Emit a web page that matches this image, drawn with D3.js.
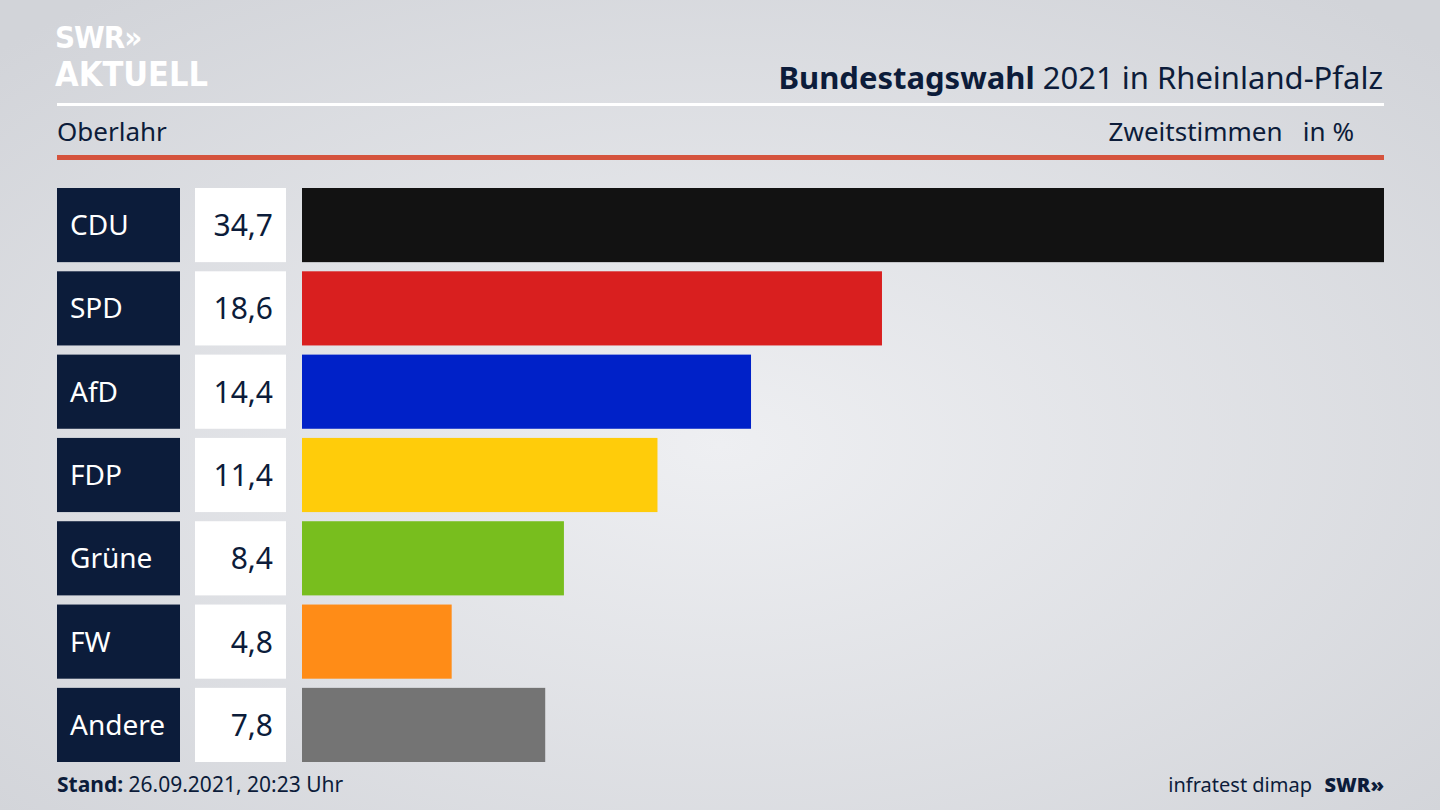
<!DOCTYPE html>
<html>
<head>
<meta charset="utf-8">
<script src="https://cdn.jsdelivr.net/npm/d3@7"></script>
<style>
  body { margin: 0; }
  svg { display: block; font-family: "Noto Sans", sans-serif; }
</style>
</head>
<body>
<svg id="chart" width="1440" height="810"></svg>
<script>
// Zweitstimmen Oberlahr
const parties = ["CDU", "SPD", "AfD", "FDP", "Grüne", "FW", "Andere"];
const values = [34.7, 18.6, 14.4, 11.4, 8.4, 4.8, 7.8];
const colors = ["#121212", "#d91f1f", "#0021c8", "#ffcc0a", "#78be1e", "#ff8c17", "#747474"];

var svg = d3.select("#chart");
var navy = "#0c1c3a";

// hintergrund
var defs = svg.append("defs");
var grad = defs.append("radialGradient").attr("id", "bg")
    .attr("cx", "50%").attr("cy", "55%").attr("r", "70%");
grad.append("stop").attr("offset", "0%").attr("stop-color", "#eeeff2");
grad.append("stop").attr("offset", "100%").attr("stop-color", "#d2d4d9");
svg.append("rect").attr("width", 1440).attr("height", 810).attr("fill", "url(#bg)");

// logo
var logo = svg.append("g").attr("fill", "#fff").attr("font-weight", 700)
    .attr("font-family", "'DejaVu Sans Condensed', 'DejaVu Sans', sans-serif");
logo.append("text").attr("x", 55).attr("y", 48).attr("font-size", 31).attr("letter-spacing", -1).text("SWR»");
logo.append("text").attr("x", 55).attr("y", 86).attr("font-size", 34).text("AKTUELL");

// titel
var title = svg.append("text").attr("x", 1383).attr("y", 89).attr("text-anchor", "end")
    .attr("font-size", 31).attr("fill", navy);
title.append("tspan").attr("font-weight", 700).text("Bundestagswahl");
title.append("tspan").text(" 2021 in Rheinland-Pfalz");

svg.append("rect").attr("x", 57).attr("y", 103).attr("width", 1327).attr("height", 3).attr("fill", "#fff");
svg.append("text").attr("x", 57).attr("y", 141).attr("font-size", 26).attr("fill", navy).text("Oberlahr");
svg.append("text").attr("x", 1354).attr("y", 141).attr("text-anchor", "end").attr("font-size", 26)
    .attr("fill", navy).attr("xml:space", "preserve").text("Zweitstimmen   in %");
svg.append("rect").attr("x", 57).attr("y", 155).attr("width", 1327).attr("height", 5).attr("fill", "#d5533d");

// skalen
var y = d3.scaleBand().domain(parties).range([188, 762]).paddingInner(0.11).paddingOuter(0);
var x = d3.scaleLinear().domain([0, d3.max(values)]).range([302, 1384]);

var rows = svg.selectAll(".row").data(parties).enter().append("g").attr("class", "row");

rows.append("rect").attr("x", 57).attr("y", d => y(d)).attr("width", 123).attr("height", y.bandwidth()).attr("fill", navy);
rows.append("text").attr("x", 70).attr("y", d => y(d) + y.bandwidth() / 2 + 10)
    .attr("font-size", 28).attr("fill", "#fff").text(d => d);

rows.append("rect").attr("x", 195).attr("y", d => y(d)).attr("width", 91).attr("height", y.bandwidth()).attr("fill", "#fff");
rows.append("text").attr("x", 273).attr("y", d => y(d) + y.bandwidth() / 2 + 11)
    .attr("text-anchor", "end").attr("font-size", 30).attr("fill", navy)
    .text((d, i) => values[i].toFixed(1).replace(".", ","));

rows.append("rect").attr("x", x(0)).attr("y", d => y(d))
    .attr("width", (d, i) => x(values[i]) - x(0)).attr("height", y.bandwidth())
    .attr("fill", (d, i) => colors[i]);

// fusszeile
var stand = svg.append("text").attr("x", 57).attr("y", 792).attr("font-size", 21).attr("fill", navy);
stand.append("tspan").attr("font-weight", 700).text("Stand:");
stand.append("tspan").text(" 26.09.2021, 20:23 Uhr");
svg.append("text").attr("x", 1312).attr("y", 792).attr("text-anchor", "end").attr("font-size", 20)
    .attr("fill", navy).text("infratest dimap");
svg.append("text").attr("x", 1384).attr("y", 792).attr("text-anchor", "end").attr("font-size", 20)
    .attr("font-weight", 900).attr("fill", navy).text("SWR»");
</script>
</body>
</html>
